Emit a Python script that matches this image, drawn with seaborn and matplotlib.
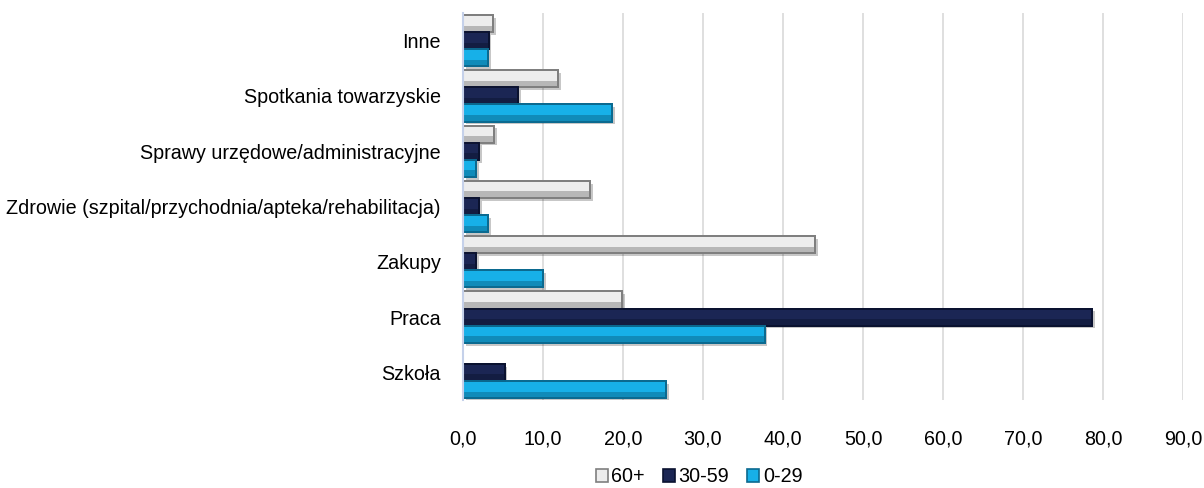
import matplotlib
matplotlib.use("Agg")
import matplotlib.pyplot as plt
import matplotlib.patheffects as pe
import seaborn as sns
import pandas as pd
from matplotlib.ticker import FuncFormatter
from matplotlib.patches import Patch, Rectangle

categories = ["Inne", "Spotkania towarzyskie", "Sprawy urzędowe/administracyjne",
              "Zdrowie (szpital/przychodnia/apteka/rehabilitacja)", "Zakupy", "Praca", "Szkoła"]
series_names = ["60+", "30-59", "0-29"]
v_60 = [3.8, 11.9, 3.9, 15.9, 44.0, 19.9, 0.0]
v_30 = [3.2, 6.9, 2.0, 2.0, 1.6, 78.6, 5.2]
v_0 = [3.1, 18.6, 1.6, 3.1, 10.0, 37.7, 25.4]
x_ticks = [0, 10, 20, 30, 40, 50, 60, 70, 80, 90]

face = {"60+": "#EDEDED", "30-59": "#1B2654", "0-29": "#17B0E8"}
lower = {"60+": "#A6A6A6", "30-59": "#111A3C", "0-29": "#0E7FAA"}
edge = {"60+": "#7F7F7F", "30-59": "#0A1230", "0-29": "#0B6A90"}

sns.set_theme(style="white")
plt.rcParams["font.family"] = ["Liberation Sans", "DejaVu Sans"]
plt.rcParams["text.color"] = "#000000"
fs = 14.2

rows = []
for s, vals in zip(series_names, [v_60, v_30, v_0]):
    for c, v in zip(categories, vals):
        rows.append({"cat": c, "grp": s, "val": v})
df = pd.DataFrame(rows)

fig = plt.figure(figsize=(12.04, 4.88), dpi=100)
ax = fig.add_axes([463 / 1204, 1 - 400 / 488, (1183 - 463) / 1204, (400 - 13) / 488])
sns.barplot(data=df, y="cat", x="val", hue="grp", order=categories, hue_order=series_names,
            palette=face, orient="h", width=0.93, ax=ax, legend=False, errorbar=None, saturation=1)

for container, s in zip(ax.containers, series_names):
    for p in list(container.patches):
        p.set_edgecolor(edge[s])
        p.set_linewidth(1.4)
        p.set_path_effects([pe.SimplePatchShadow(offset=(2, -2), shadow_rgbFace="#000000", alpha=0.22),
                            pe.Normal()])
        x0, y0, w, h = p.get_x(), p.get_y(), p.get_width(), p.get_height()
        if w > 0:
            ax.add_patch(Rectangle((x0, y0 + h * 0.62), w, h * 0.38, facecolor=lower[s],
                                   edgecolor="none", alpha=0.75, zorder=p.get_zorder() + 0.1))
            ax.add_patch(Rectangle((x0, y0), w, h, facecolor="none", edgecolor=edge[s],
                                   linewidth=1.4, zorder=p.get_zorder() + 0.2))

ax.set_xlim(0, 90)
ax.set_xticks(x_ticks)
ax.xaxis.set_major_formatter(FuncFormatter(lambda v, p: f"{v:.1f}".replace(".", ",")))
ax.grid(axis="x", color="#D9D9D9", linewidth=1.2)
ax.set_axisbelow(True)
for sp in ["top", "right", "bottom"]:
    ax.spines[sp].set_visible(False)
ax.spines["left"].set_color("#C5D1EA")
ax.spines["left"].set_linewidth(1.5)
ax.set_xlabel("")
ax.set_ylabel("")
ax.tick_params(axis="x", length=0, pad=21, labelsize=fs, labelcolor="#000000")
ax.tick_params(axis="y", length=0, pad=16, labelsize=fs, labelcolor="#000000")

handles = [Patch(facecolor=face[s], edgecolor=edge[s], linewidth=1.2) for s in series_names]
fig.legend(handles, series_names, loc="center", bbox_to_anchor=(699 / 1204, 1 - 477 / 488),
           ncol=3, frameon=False, fontsize=fs, handlelength=0.6, handleheight=0.6,
           handletextpad=0.2, columnspacing=0.9, labelcolor="#000000")

fig.savefig("out.png", dpi=100)
